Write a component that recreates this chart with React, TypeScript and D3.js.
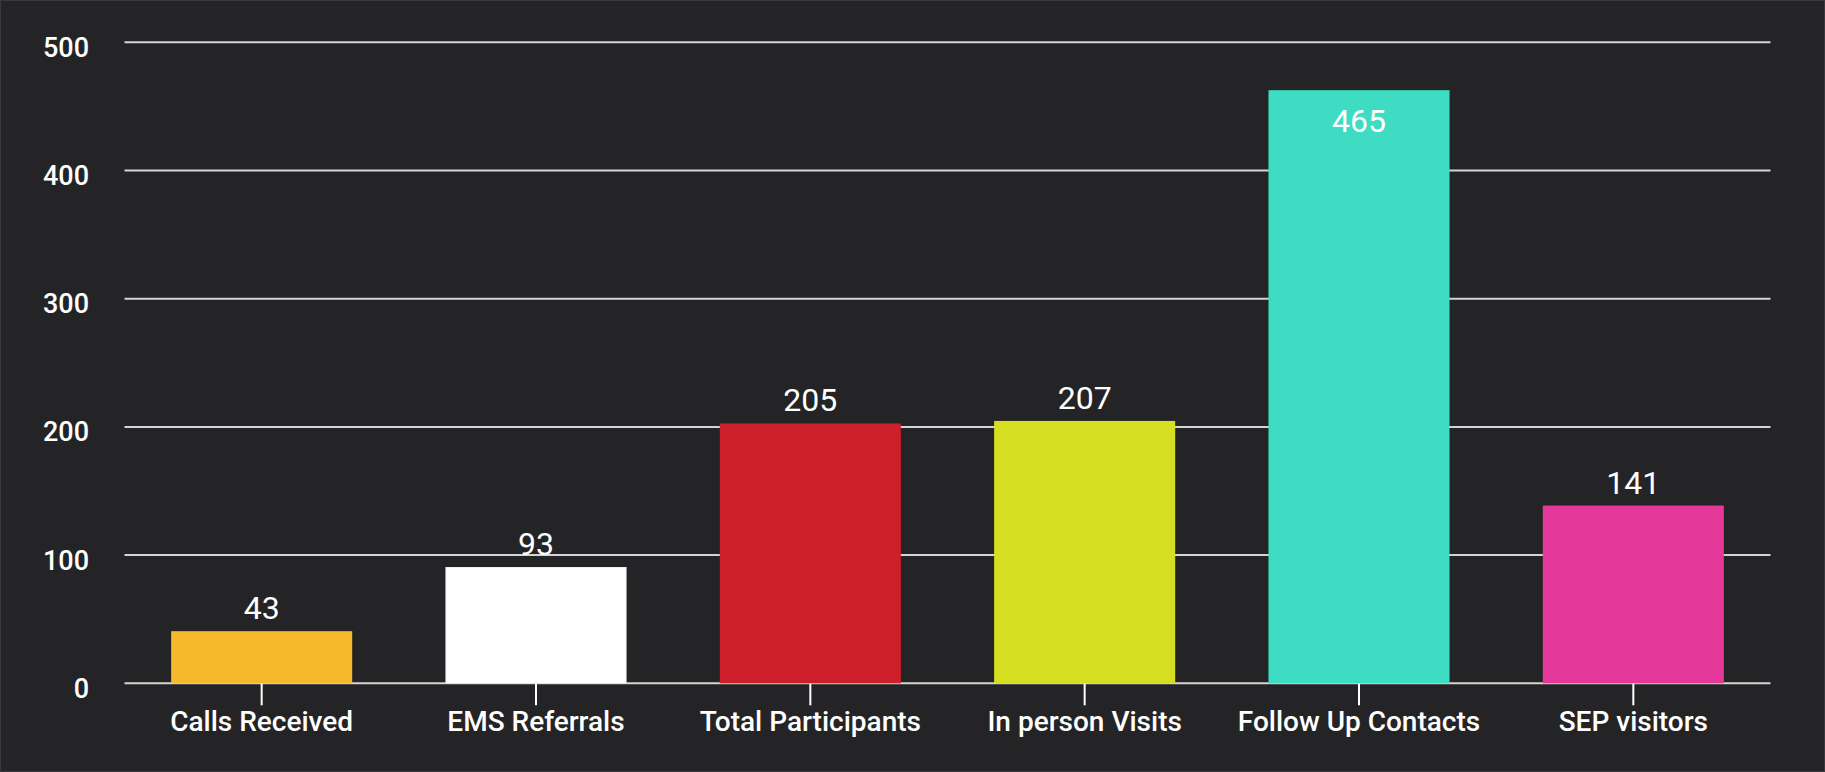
import React, { useEffect, useRef } from 'react';
import * as d3 from 'd3';

const categories = ['Calls Received', 'EMS Referrals', 'Total Participants', 'In person Visits', 'Follow Up Contacts', 'SEP visitors'];
const values = [43, 93, 205, 207, 465, 141];
const barColors = ['#f6b92c', '#ffffff', '#cc1f29', '#d6de21', '#3ddcc3', '#e4389a'];
const yTicks = [0, 100, 200, 300, 400, 500];

const App = () => {
  const ref = useRef<SVGSVGElement>(null);

  useEffect(() => {
    document.body.style.margin = '0';
    const svg = d3.select(ref.current);
    svg.selectAll('*').remove();

    const width = 1825, height = 772;
    const left = 124.5, right = 1770.5, top = 42.3, bottom = 683.3;
    const barInset = 3; // bars sit a little below their value line

    svg.append('rect')
      .attr('x', 0.5).attr('y', 0.5)
      .attr('width', width - 1).attr('height', height - 1)
      .attr('fill', '#242426')
      .attr('stroke', '#3a3a3d');

    const x = d3.scaleBand()
      .domain(categories)
      .range([left, right])
      .paddingInner(0.34)
      .paddingOuter(0.17);

    const y = d3.scaleLinear()
      .domain([0, 500])
      .range([bottom, top]);

    const barTop = (d: number) => Math.min(y(d) + barInset, bottom);

    // grid lines
    svg.append('g')
      .selectAll('line')
      .data(yTicks)
      .join('line')
        .attr('x1', left)
        .attr('x2', right)
        .attr('y1', d => y(d))
        .attr('y2', d => y(d))
        .attr('stroke', '#d4d4d4')
        .attr('stroke-width', 2);

    // y labels
    svg.append('g')
      .selectAll('text')
      .data(yTicks)
      .join('text')
        .attr('x', 89)
        .attr('y', d => y(d) + 5)
        .attr('dy', '0.35em')
        .attr('text-anchor', 'end')
        .attr('fill', '#ffffff')
        .attr('font-family', 'Roboto')
        .attr('font-weight', 500)
        .attr('font-size', 27)
        .text(d => d);

    // x ticks
    svg.append('g')
      .selectAll('line')
      .data(categories)
      .join('line')
        .attr('x1', d => x(d)! + x.bandwidth() / 2)
        .attr('x2', d => x(d)! + x.bandwidth() / 2)
        .attr('y1', bottom)
        .attr('y2', bottom + 22)
        .attr('stroke', '#ffffff')
        .attr('stroke-width', 2);

    // x labels
    svg.append('g')
      .selectAll('text')
      .data(categories)
      .join('text')
        .attr('x', d => x(d)! + x.bandwidth() / 2)
        .attr('y', 731)
        .attr('text-anchor', 'middle')
        .attr('fill', '#ffffff')
        .attr('font-family', 'Roboto')
        .attr('font-weight', 500)
        .attr('font-size', 28)
        .text(d => d);

    // bars
    svg.append('g')
      .selectAll('rect')
      .data(values)
      .join('rect')
        .attr('x', (d, i) => x(categories[i])!)
        .attr('y', d => barTop(d))
        .attr('width', x.bandwidth())
        .attr('height', d => bottom - barTop(d))
        .attr('fill', (d, i) => barColors[i]);

    // value labels
    svg.append('g')
      .selectAll('text')
      .data(values)
      .join('text')
        .attr('x', (d, i) => x(categories[i])! + x.bandwidth() / 2)
        .attr('y', d => d > 400 ? barTop(d) + 42 : barTop(d) - 12)
        .attr('text-anchor', 'middle')
        .attr('fill', '#ffffff')
        .attr('font-family', 'Roboto')
        .attr('font-size', 32)
        .text(d => d);
  }, []);

  return (
    <svg ref={ref} width={1825} height={772} style={{ display: 'block' }}></svg>
  );
};

export default App;
